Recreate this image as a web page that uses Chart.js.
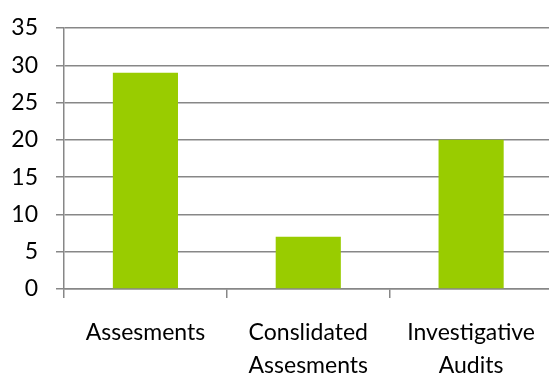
<!DOCTYPE html>
<html>
<head>
<meta charset="utf-8">
<script src="https://cdn.jsdelivr.net/npm/chart.js@4/dist/chart.umd.min.js"></script>
<style>
html,body{margin:0;padding:0;background:#fff;overflow:hidden;}
#wrap{width:553px;height:374px;position:relative;}
</style>
</head>
<body>
<div id="wrap"><canvas id="c"></canvas></div>
<script>
const categories = ["Assesments", ["Conslidated", "Assesments"], ["Investigative", "Audits"]];
const values = [29, 7, 20];
const yTicks = [0, 5, 10, 15, 20, 25, 30, 35];

const gridColor = "#878787";
const fontFamily = "Lato, 'Open Sans', sans-serif";

new Chart(document.getElementById("c"), {
  type: "bar",
  data: {
    labels: categories,
    datasets: [{
      data: values,
      backgroundColor: "#99CC00",
      borderWidth: 0,
      barPercentage: 0.4,
      categoryPercentage: 1.0
    }]
  },
  options: {
    responsive: true,
    maintainAspectRatio: false,
    animation: false,
    layout: { padding: { top: 28, left: 0, right: 0, bottom: 0 } },
    plugins: { legend: { display: false }, tooltip: { enabled: false } },
    scales: {
      x: {
        grid: { display: true, drawOnChartArea: false, drawTicks: true, tickLength: 9, color: gridColor, lineWidth: 1.5 },
        border: { display: true, color: gridColor, width: 1.5 },
        ticks: { color: "#000", font: { family: fontFamily, size: 23, lineHeight: 1.43 }, padding: 18, maxRotation: 0, autoSkip: false },
        afterFit: s => { s.height = 85; }
      },
      y: {
        min: 0, max: 35,
        afterBuildTicks: s => { s.ticks = yTicks.map(v => ({ value: v })); },
        grid: { color: gridColor, lineWidth: 1.5, tickLength: 8 },
        border: { display: true, color: gridColor, width: 1.5 },
        ticks: { color: "#000", font: { family: fontFamily, size: 23 }, padding: 18 },
        afterFit: s => { s.width = 64; s.paddingTop = 0; s.paddingBottom = 0; }
      }
    }
  }
});
</script>
</body>
</html>
